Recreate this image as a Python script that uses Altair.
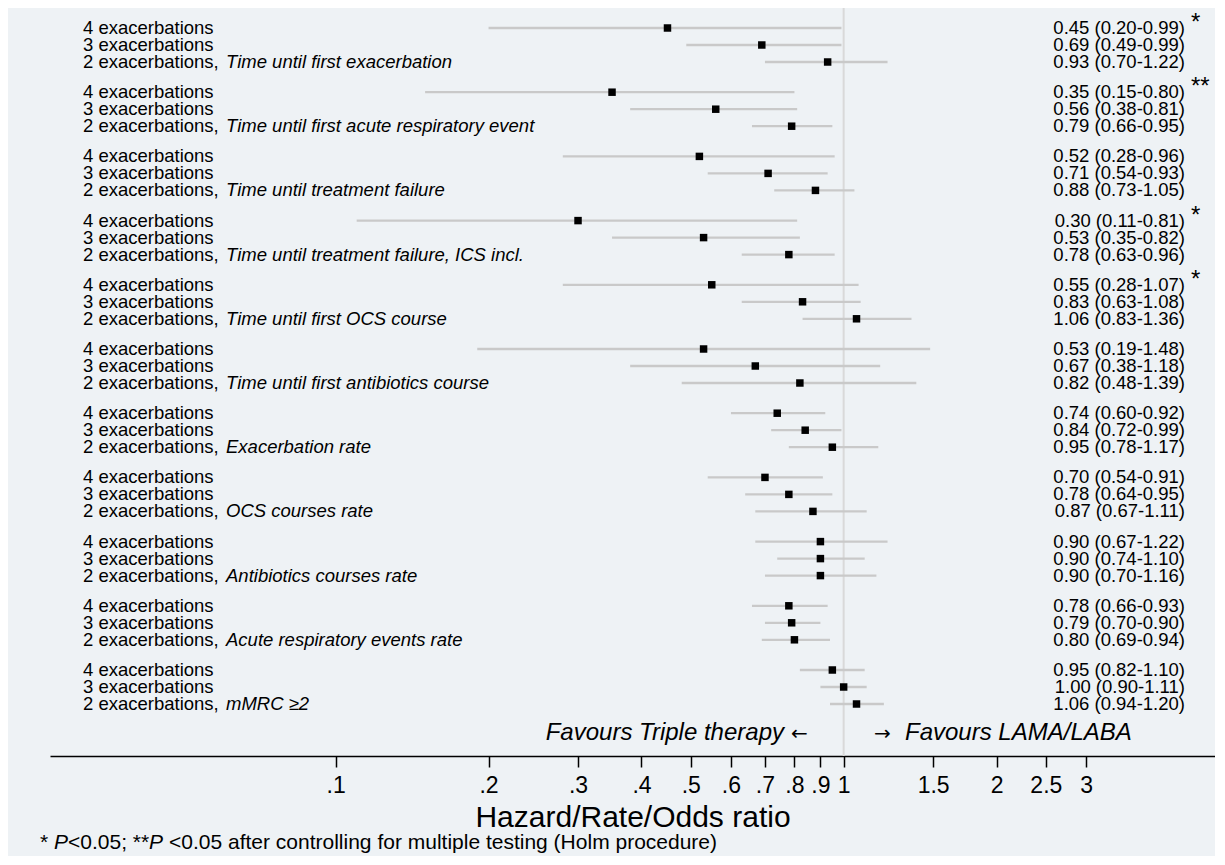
import altair as alt
import pandas as pd

# ---------------- data ----------------
outcomes = [
    "Time until first exacerbation",
    "Time until first acute respiratory event",
    "Time until treatment failure",
    "Time until treatment failure, ICS incl.",
    "Time until first OCS course",
    "Time until first antibiotics course",
    "Exacerbation rate",
    "OCS courses rate",
    "Antibiotics courses rate",
    "Acute respiratory events rate",
    "mMRC \u22652",
]
thresholds = ["4 exacerbations", "3 exacerbations", "2 exacerbations,"]

hr = [
    [0.45, 0.69, 0.93], [0.35, 0.56, 0.79], [0.52, 0.71, 0.88], [0.30, 0.53, 0.78],
    [0.55, 0.83, 1.06], [0.53, 0.67, 0.82], [0.74, 0.84, 0.95], [0.70, 0.78, 0.87],
    [0.90, 0.90, 0.90], [0.78, 0.79, 0.80], [0.95, 1.00, 1.06],
]
lo = [
    [0.20, 0.49, 0.70], [0.15, 0.38, 0.66], [0.28, 0.54, 0.73], [0.11, 0.35, 0.63],
    [0.28, 0.63, 0.83], [0.19, 0.38, 0.48], [0.60, 0.72, 0.78], [0.54, 0.64, 0.67],
    [0.67, 0.74, 0.70], [0.66, 0.70, 0.69], [0.82, 0.90, 0.94],
]
hi = [
    [0.99, 0.99, 1.22], [0.80, 0.81, 0.95], [0.96, 0.93, 1.05], [0.81, 0.82, 0.96],
    [1.07, 1.08, 1.36], [1.48, 1.18, 1.39], [0.92, 0.99, 1.17], [0.91, 0.95, 1.11],
    [1.22, 1.10, 1.16], [0.93, 0.90, 0.94], [1.10, 1.11, 1.20],
]
stars = [
    ["*", "", ""], ["**", "", ""], ["", "", ""], ["*", "", ""], ["*", "", ""],
    ["", "", ""], ["", "", ""], ["", "", ""], ["", "", ""], ["", "", ""], ["", "", ""],
]
tick_values = [0.1, 0.2, 0.3, 0.4, 0.5, 0.6, 0.7, 0.8, 0.9, 1, 1.5, 2, 2.5, 3]
favours_left = "Favours Triple therapy"
favours_right = "Favours LAMA/LABA"
arrow_left = "\u2190"
arrow_right = "\u2192"
x_title = "Hazard/Rate/Odds ratio"
footnote_parts = ["*", "P", "<0.05; **", "P", "<0.05 after controlling for multiple testing (Holm procedure)"]

# ---------------- table ----------------
GROUP_STEP = 64.2 / 17.0
rows = []
for g, name in enumerate(outcomes):
    for i in range(3):
        rows.append(dict(
            label=thresholds[i],
            outcome=name if i == 2 else "",
            hr=hr[g][i], lo=lo[g][i], hi=hi[g][i],
            ci=f"{hr[g][i]:.2f} ({lo[g][i]:.2f}-{hi[g][i]:.2f})",
            star=stars[g][i],
            pos=g * GROUP_STEP + i,
        ))
df = pd.DataFrame(rows)

FONT = "Liberation Sans"
BG = "#EEF2F5"
W, H = 1165, 748

xscale = alt.Scale(type="log", domain=[0.02740, 5.382], nice=False, zero=False)
yscale = alt.Scale(domain=[-20 / 17.0, (H - 20) / 17.0], reverse=True, nice=False, zero=False)
xaxis = alt.Axis(
    values=tick_values,
    labelExpr="datum.value < 1 ? '.' + format(datum.value * 10, '.0f') : format(datum.value, '')",
    grid=False, domainColor="black", domainWidth=1.7, tickColor="black", tickWidth=1.5,
    tickSize=11, labelFontSize=23, labelColor="black", labelFont=FONT, labelPadding=7,
    labelOverlap=False, labelFlush=False, titleFontSize=30, titleFontWeight="normal",
    titleColor="black", titleFont=FONT, titleY=61, titleBaseline="middle",
)

def X(field=None, datum=None):
    if datum is not None:
        return alt.X(datum=datum, type="quantitative", scale=xscale, axis=xaxis, title=x_title)
    return alt.X(field, type="quantitative", scale=xscale, axis=xaxis, title=x_title)

Y = alt.Y("pos:Q", scale=yscale, axis=None)

base = alt.Chart(df)

ref = alt.Chart(pd.DataFrame({"v": [1]})).mark_rule(color="#d9d9d9", strokeWidth=2).encode(
    x=X(datum=1)
)
ci = base.mark_rule(color="#c9c9c9", strokeWidth=2.3).encode(
    x=X("lo"), x2="hi", y=Y
)
pts = base.mark_square(size=56, color="black", opacity=1).encode(x=X("hr"), y=Y)

ROW_FS = 18.5
lab = base.mark_text(align="left", baseline="middle", font=FONT, fontSize=ROW_FS, color="black").encode(
    x=alt.value(33), y=Y, text="label:N"
)
outc = base.mark_text(align="left", baseline="middle", font=FONT, fontSize=ROW_FS, fontStyle="italic",
                      color="black").encode(x=alt.value(176), y=Y, text="outcome:N")
cit = base.mark_text(align="right", baseline="middle", font=FONT, fontSize=ROW_FS, color="black").encode(
    x=alt.value(1135), y=Y, text="ci:N"
)
st = base.mark_text(align="left", baseline="middle", font=FONT, fontSize=24, dy=-5, color="black").encode(
    x=alt.value(1141), y=Y, text="star:N"
)

def label_layer(text, x, y, align, size, style="normal", font=FONT, dy=0):
    return alt.Chart(pd.DataFrame({"t": [text]})).mark_text(
        align=align, baseline="middle", font=font, fontSize=size, fontStyle=style,
        color="black", dy=dy
    ).encode(x=alt.value(x), y=alt.value(y), text="t:N")

fav_layers = [
    label_layer(favours_left, 734, 725, "right", 24, "italic"),
    label_layer(arrow_left, 741, 725, "left", 20, "normal", "DejaVu Sans", 1),
    label_layer(arrow_right, 824, 725, "left", 20, "normal", "DejaVu Sans", 1),
    label_layer(favours_right, 855, 725, "left", 24, "italic"),
]

foot_x = [-10, 4, 18, 99, 119]
foot_style = ["normal", "italic", "normal", "italic", "normal"]
foot_layers = [label_layer(seg, fx, 835, "left", 21, fs)
               for seg, fx, fs in zip(footnote_parts, foot_x, foot_style)]

chart = alt.layer(ref, ci, pts, lab, outc, cit, st, *fav_layers, *foot_layers).properties(
    width=W, height=H,
    padding={"left": 42, "top": 0, "right": 0, "bottom": 100},
    autosize=alt.AutoSizeParams(type="none"),
    background=BG,
).configure_view(stroke=None)

chart.save("out.html", embed_options={"renderer": "svg", "actions": False})
